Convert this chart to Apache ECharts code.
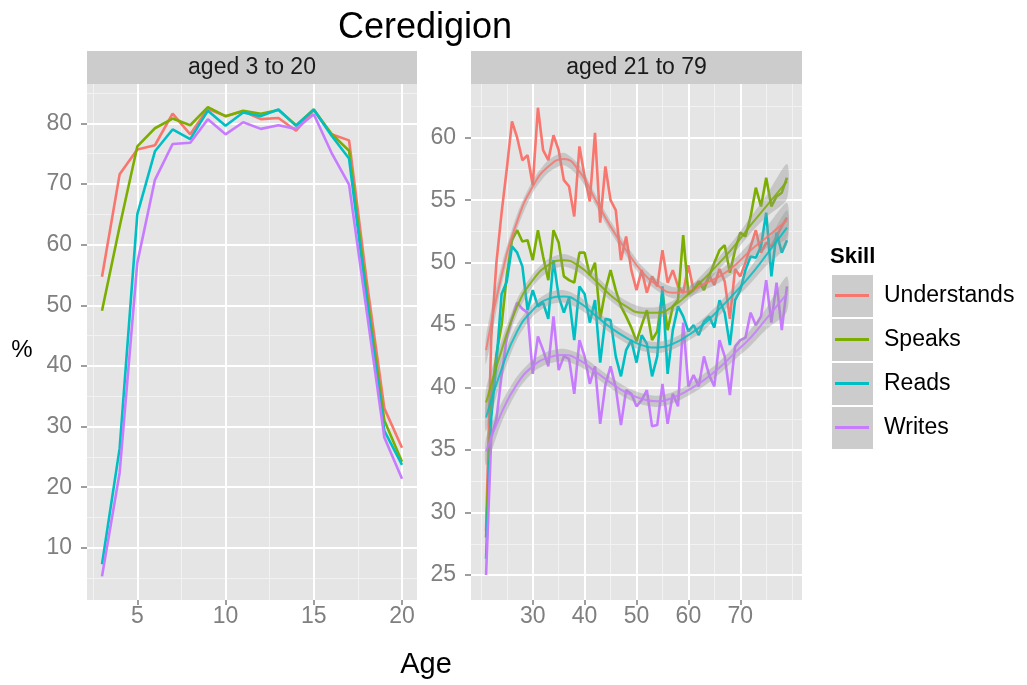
<!DOCTYPE html>
<html><head><meta charset="utf-8">
<script src="https://cdn.jsdelivr.net/npm/echarts@6/dist/echarts.min.js"></script>
<style>html,body{margin:0;padding:0;background:#fff}#c{width:1027px;height:685px}</style>
</head><body><div id="c"></div>
<script>
const FONT = '"Liberation Sans", Arial, Helvetica, sans-serif';
const skills = ['Understands', 'Speaks', 'Reads', 'Writes'];
const colors = ['#F8766D', '#7CAE00', '#00BFC4', '#C77CFF'];
const panelTitles = ['aged 3 to 20', 'aged 21 to 79'];

// Left panel: ages 3-20
const leftAges = [3, 4, 5, 6, 7, 8, 9, 10, 11, 12, 13, 14, 15, 16, 17, 18, 19, 20];
const leftUnderstands = [54.7, 71.6, 75.7, 76.4, 81.6, 78.2, 82.4, 81.2, 82.0, 80.7, 80.9, 78.8, 82.2, 78.2, 77.2, 54.0, 33.0, 26.5];
const leftSpeaks      = [49.1, 63.0, 76.2, 79.2, 80.8, 79.7, 82.7, 81.2, 82.1, 81.6, 82.2, 79.7, 82.3, 78.3, 75.5, 52.0, 31.0, 24.2];
const leftReads       = [7.3, 26.4, 65.0, 75.4, 79.0, 77.4, 82.1, 79.6, 81.8, 81.2, 82.3, 79.6, 82.3, 78.0, 74.2, 51.0, 29.3, 23.7];
const leftWrites      = [5.3, 22.4, 57.0, 70.7, 76.6, 76.8, 80.7, 78.2, 80.2, 79.1, 79.7, 79.1, 81.5, 75.2, 69.9, 49.0, 28.2, 21.4];

// Right panel: ages 21-79
const rightAges = [21, 22, 23, 24, 25, 26, 27, 28, 29, 30,
  31, 32, 33, 34, 35, 36, 37, 38, 39, 40,
  41, 42, 43, 44, 45, 46, 47, 48, 49, 50,
  51, 52, 53, 54, 55, 56, 57, 58, 59, 60,
  61, 62, 63, 64, 65, 66, 67, 68, 69, 70,
  71, 72, 73, 74, 75, 76, 77, 78, 79];
const rightUnderstands = [28.5, 44.0, 50.0, 54.0, 57.5, 61.3, 60.0, 58.2, 58.6, 56.2,
  62.4, 59.0, 58.2, 60.2, 59.0, 56.6, 56.1, 53.7, 59.3, 56.9,
  54.9, 60.4, 53.2, 57.7, 55.0, 54.2, 50.2, 52.1, 49.4, 47.8,
  49.4, 47.6, 48.9, 48.1, 51.0, 48.4, 49.4, 48.1, 47.6, 49.8,
  47.8, 48.5, 48.0, 49.0, 48.2, 49.5, 48.5, 45.5, 49.5, 48.9,
  50.0, 51.3, 52.6, 50.8, 51.6, 51.3, 52.1, 52.9, 53.6];
const rightSpeaks = [28.0, 39.0, 42.7, 45.0, 49.0, 51.8, 52.6, 51.7, 51.8, 50.2,
  52.6, 50.5, 48.6, 52.6, 51.6, 48.9, 48.6, 48.4, 50.8, 50.8,
  49.0, 50.0, 45.5, 47.8, 49.4, 47.8, 46.5, 45.7, 44.8, 43.7,
  45.0, 46.2, 43.8, 44.5, 47.6, 44.6, 46.5, 47.0, 52.2, 47.5,
  47.8, 48.5, 47.8, 48.9, 50.0, 51.0, 51.4, 49.2, 51.0, 52.4,
  52.1, 53.7, 56.0, 54.5, 56.8, 54.5, 55.3, 55.6, 56.8];
const rightReads = [26.3, 37.6, 42.0, 47.5, 48.5, 51.3, 50.8, 49.7, 46.2, 47.8,
  46.5, 46.8, 45.5, 50.2, 47.3, 46.0, 47.2, 43.8, 48.1, 47.5,
  45.2, 47.0, 42.0, 45.5, 45.4, 42.5, 40.9, 43.0, 43.8, 42.0,
  44.2, 43.5, 40.9, 42.5, 48.1, 41.1, 44.6, 46.5, 45.7, 44.5,
  45.0, 44.2, 45.3, 45.7, 44.8, 47.0, 46.0, 43.4, 47.0, 47.8,
  49.4, 50.5, 50.4, 51.3, 54.0, 48.9, 52.4, 50.8, 51.8];
const rightWrites = [25.0, 36.0, 37.5, 41.0, 44.0, 45.5, 46.8, 46.3, 46.0, 41.1,
  44.1, 43.0, 41.7, 45.7, 41.4, 42.5, 42.3, 39.5, 43.8, 42.5,
  40.3, 41.7, 37.1, 40.2, 41.7, 40.0, 37.0, 39.8, 39.5, 38.5,
  39.0, 39.8, 36.9, 37.0, 40.3, 37.1, 39.5, 38.5, 45.2, 40.1,
  41.0, 40.1, 42.5, 41.0, 40.1, 43.8, 42.5, 39.4, 43.3, 43.8,
  44.0, 46.0, 45.0, 45.7, 48.6, 45.2, 48.4, 44.6, 48.1];

// Smoothed (loess) fits, with confidence band half-widths
const smoothAges = [21, 24, 27, 30, 33, 36, 39, 42, 45, 48, 51, 54, 57, 60, 63, 66, 69, 72, 75, 79];
const smoothUnderstands = [43.0, 49.0, 53.3, 56.1, 57.7, 58.3, 57.3, 55.1, 52.9, 51.0, 49.3, 48.2, 47.6, 47.7, 48.3, 48.9, 49.8, 51.0, 52.0, 53.4];
const smoothSpeaks      = [38.8, 43.0, 46.5, 48.6, 49.8, 50.2, 49.7, 48.6, 47.4, 46.5, 46.0, 46.0, 46.5, 47.5, 48.7, 50.0, 51.4, 53.0, 54.5, 56.5];
const smoothReads       = [37.6, 41.5, 44.5, 46.2, 47.1, 47.3, 46.8, 45.8, 44.8, 44.0, 43.4, 43.2, 43.5, 44.2, 45.1, 46.3, 47.6, 49.0, 50.6, 52.8];
const smoothWrites      = [34.9, 38.0, 40.3, 41.7, 42.4, 42.6, 42.2, 41.3, 40.4, 39.6, 39.1, 38.9, 39.2, 39.8, 40.6, 41.6, 42.8, 44.0, 45.5, 47.5];
const bandHalfWidth     = [1.1, 0.8, 0.6, 0.5, 0.5, 0.5, 0.5, 0.45, 0.45, 0.45, 0.45, 0.45, 0.45, 0.45, 0.5, 0.5, 0.55, 0.65, 0.85, 1.4];

// Axis ticks and grid breaks
const leftXTicks = [5, 10, 15, 20];
const leftXMinor = [2.5, 7.5, 12.5, 17.5];
const leftYTicks = [10, 20, 30, 40, 50, 60, 70, 80];
const leftYMinor = [5, 15, 25, 35, 45, 55, 65, 75, 85];
const rightXTicks = [30, 40, 50, 60, 70];
const rightXMinor = [20, 25, 35, 45, 55, 65, 75, 80];
const rightYTicks = [25, 30, 35, 40, 45, 50, 55, 60];
const rightYMinor = [27.5, 32.5, 37.5, 42.5, 47.5, 52.5, 57.5, 62.5];

const leftSeries = [leftUnderstands, leftSpeaks, leftReads, leftWrites];
const rightSeries = [rightUnderstands, rightSpeaks, rightReads, rightWrites];
const smoothSeries = [smoothUnderstands, smoothSpeaks, smoothReads, smoothWrites];

const grids = [
  {left: 87, top: 84, width: 330, height: 516},
  {left: 471, top: 84, width: 331, height: 516}
];

function xAxisDef(g, min, max, ticks) {
  return {
    gridIndex: g, type: 'value', min: min, max: max,
    axisLine: {show: false}, splitLine: {show: false},
    axisTick: {show: true, customValues: ticks, length: 5, lineStyle: {color: '#7F7F7F', width: 1.5}},
    axisLabel: {customValues: ticks, color: '#7F7F7F', fontSize: 23, margin: 5, fontFamily: FONT}
  };
}
function yAxisDef(g, min, max, ticks) {
  return {
    gridIndex: g, type: 'value', min: min, max: max,
    axisLine: {show: false}, splitLine: {show: false},
    axisTick: {show: true, customValues: ticks, length: 6, lineStyle: {color: '#7F7F7F', width: 1.5}},
    axisLabel: {customValues: ticks, color: '#7F7F7F', fontSize: 23, margin: 15, fontFamily: FONT}
  };
}

function gridLineSeries(g, xMajor, xMinor, yMajor, yMinor) {
  const minorStyle = {color: '#F2F2F2', width: 1, type: 'solid'};
  const majorStyle = {color: '#FFFFFF', width: 2, type: 'solid'};
  const data = [];
  xMinor.forEach(v => data.push({xAxis: v, lineStyle: minorStyle}));
  yMinor.forEach(v => data.push({yAxis: v, lineStyle: minorStyle}));
  xMajor.forEach(v => data.push({xAxis: v, lineStyle: majorStyle}));
  yMajor.forEach(v => data.push({yAxis: v, lineStyle: majorStyle}));
  return {
    type: 'line', xAxisIndex: g, yAxisIndex: g, data: [], z: 1, silent: true,
    markLine: {silent: true, z: 1, symbol: ['none', 'none'], animation: false,
      label: {show: false}, lineStyle: {type: 'solid'}, emphasis: {disabled: true}, data: data}
  };
}

const series = [];
series.push(gridLineSeries(0, leftXTicks, leftXMinor, leftYTicks, leftYMinor));
series.push(gridLineSeries(1, rightXTicks, rightXMinor, rightYTicks, rightYMinor));

skills.forEach((s, k) => {
  series.push({
    type: 'line', name: s, xAxisIndex: 0, yAxisIndex: 0, z: 2,
    data: leftAges.map((a, i) => [a, leftSeries[k][i]]),
    showSymbol: false, symbol: 'none', animation: false,
    lineStyle: {color: colors[k], width: 2.6}, itemStyle: {color: colors[k]}
  });
  series.push({
    type: 'line', name: s, xAxisIndex: 1, yAxisIndex: 1, z: 2,
    data: rightAges.map((a, i) => [a, rightSeries[k][i]]),
    showSymbol: false, symbol: 'none', animation: false,
    lineStyle: {color: colors[k], width: 2.6}, itemStyle: {color: colors[k]}
  });
});

skills.forEach((s, k) => {
  const sm = smoothSeries[k];
  series.push({
    type: 'custom', xAxisIndex: 1, yAxisIndex: 1, z: 3, silent: true, animation: false,
    data: [[50, 40]],
    renderItem: function (params, api) {
      const pts = [];
      for (let i = 0; i < smoothAges.length; i++) pts.push(api.coord([smoothAges[i], sm[i] + bandHalfWidth[i]]));
      for (let i = smoothAges.length - 1; i >= 0; i--) pts.push(api.coord([smoothAges[i], sm[i] - bandHalfWidth[i]]));
      return {type: 'polygon', shape: {points: pts, smooth: 0.25}, style: {fill: 'rgba(153,153,153,0.4)', stroke: null}};
    }
  });
});
skills.forEach((s, k) => {
  series.push({
    type: 'line', name: s + ' fit', xAxisIndex: 1, yAxisIndex: 1, z: 4,
    data: smoothAges.map((a, i) => [a, smoothSeries[k][i]]),
    smooth: true, showSymbol: false, symbol: 'none', animation: false,
    lineStyle: {color: colors[k], width: 2, opacity: 0.85}, itemStyle: {color: colors[k]}
  });
});

const graphic = [];
// strips
grids.forEach((gr, i) => {
  graphic.push({type: 'rect', left: gr.left, top: 51, shape: {width: gr.width, height: 33}, style: {fill: '#CCCCCC'}, silent: true});
  graphic.push({type: 'text', x: gr.left + gr.width / 2, y: 68, style: {text: panelTitles[i], fill: '#1A1A1A', font: '23px ' + FONT, align: 'center', verticalAlign: 'middle'}});
});
// title & axis titles
graphic.push({type: 'text', x: 425, y: 28, style: {text: 'Ceredigion', fill: '#000', font: '36px ' + FONT, align: 'center', verticalAlign: 'middle'}});
graphic.push({type: 'text', x: 22, y: 350, style: {text: '%', fill: '#000', font: '24px ' + FONT, align: 'center', verticalAlign: 'middle'}});
graphic.push({type: 'text', x: 426, y: 665, style: {text: 'Age', fill: '#000', font: '29px ' + FONT, align: 'center', verticalAlign: 'middle'}});
// legend
graphic.push({type: 'text', x: 830, y: 257, style: {text: 'Skill', fill: '#000', font: 'bold 22px ' + FONT, align: 'left', verticalAlign: 'middle'}});
skills.forEach((s, k) => {
  const top = 274 + k * 44;
  graphic.push({type: 'rect', left: 831, top: top, shape: {width: 42, height: 43}, style: {fill: '#CCCCCC', stroke: '#FFFFFF', lineWidth: 1}, silent: true});
  graphic.push({type: 'line', shape: {x1: 835, y1: top + 21.5, x2: 869, y2: top + 21.5}, style: {stroke: colors[k], lineWidth: 3}, silent: true});
  graphic.push({type: 'text', x: 884, y: top + 22, style: {text: s, fill: '#000', font: '23px ' + FONT, align: 'left', verticalAlign: 'middle'}});
});

const chart = echarts.init(document.getElementById('c'), null, {renderer: 'canvas'});
chart.setOption({
  backgroundColor: '#FFFFFF',
  animation: false,
  grid: grids.map(g => Object.assign({show: true, backgroundColor: '#E5E5E5', borderWidth: 0}, g)),
  xAxis: [xAxisDef(0, 2.15, 20.85, leftXTicks), xAxisDef(1, 18.1, 81.9, rightXTicks)],
  yAxis: [yAxisDef(0, 1.4, 86.5, leftYTicks), yAxisDef(1, 23.0, 64.3, rightYTicks)],
  series: series,
  graphic: graphic
});
</script></body></html>
